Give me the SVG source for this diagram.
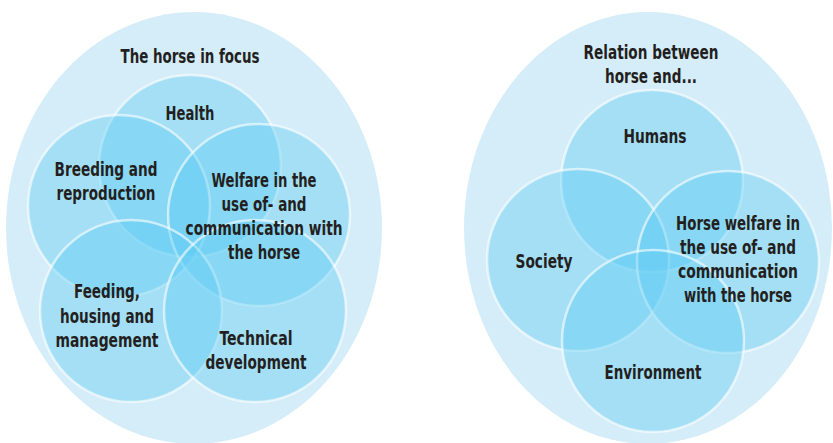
<svg xmlns="http://www.w3.org/2000/svg" width="833" height="443" viewBox="0 0 833 443">
<style>
.bg{fill:#d5edf9}
.c{fill:#5ecdf4;fill-opacity:0.41;stroke:#ffffff;stroke-opacity:0.6;stroke-width:2.5}
text{font-family:"DejaVu Sans Condensed","Liberation Sans",sans-serif;font-weight:bold;font-size:19px;fill:#231f20;text-anchor:middle}
</style>
<rect width="833" height="443" fill="#ffffff"/>
<g id="left-group">
<ellipse class="bg" cx="194" cy="228" rx="188" ry="216"/>
<text x="190" y="63" textLength="139" lengthAdjust="spacingAndGlyphs">The horse in focus</text>
</g>
<g id="health"><circle class="c" cx="190" cy="166" r="91"/></g>
<g id="breeding"><circle class="c" cx="119" cy="206" r="91"/></g>
<g id="welfare"><circle class="c" cx="259" cy="215" r="91"/></g>
<g id="feeding"><circle class="c" cx="131" cy="311" r="91"/></g>
<g id="technical"><circle class="c" cx="255" cy="311" r="91"/></g>
<g id="left-labels">
<text x="190" y="120" textLength="49" lengthAdjust="spacingAndGlyphs">Health</text>
<text x="106" y="176" textLength="103" lengthAdjust="spacingAndGlyphs">Breeding and</text>
<text x="106" y="200" textLength="99" lengthAdjust="spacingAndGlyphs">reproduction</text>
<text x="264" y="187" textLength="105" lengthAdjust="spacingAndGlyphs">Welfare in the</text>
<text x="264" y="211" textLength="85" lengthAdjust="spacingAndGlyphs">use of- and</text>
<text x="264" y="235" textLength="157" lengthAdjust="spacingAndGlyphs">communication with</text>
<text x="264" y="259" textLength="72" lengthAdjust="spacingAndGlyphs">the horse</text>
<text x="107" y="298" textLength="66" lengthAdjust="spacingAndGlyphs">Feeding,</text>
<text x="107" y="323" textLength="94" lengthAdjust="spacingAndGlyphs">housing and</text>
<text x="107" y="347" textLength="103" lengthAdjust="spacingAndGlyphs">management</text>
<text x="256" y="345" textLength="73" lengthAdjust="spacingAndGlyphs">Technical</text>
<text x="256" y="369" textLength="101" lengthAdjust="spacingAndGlyphs">development</text>
</g>
<g id="right-group">
<ellipse class="bg" cx="648" cy="228" rx="184" ry="216"/>
<text x="651" y="59" textLength="135" lengthAdjust="spacingAndGlyphs">Relation between</text>
<text x="651" y="83" textLength="92" lengthAdjust="spacingAndGlyphs">horse and...</text>
</g>
<g id="humans"><circle class="c" cx="652" cy="181" r="91"/></g>
<g id="society"><circle class="c" cx="578" cy="260" r="91"/></g>
<g id="horse-welfare"><circle class="c" cx="728" cy="262" r="91"/></g>
<g id="environment"><circle class="c" cx="653" cy="341" r="91"/></g>
<g id="right-labels">
<text x="655" y="143" textLength="63" lengthAdjust="spacingAndGlyphs">Humans</text>
<text x="544" y="268" textLength="57" lengthAdjust="spacingAndGlyphs">Society</text>
<text x="738" y="230" textLength="124" lengthAdjust="spacingAndGlyphs">Horse welfare in</text>
<text x="738" y="254" textLength="116" lengthAdjust="spacingAndGlyphs">the use of- and</text>
<text x="738" y="278" textLength="120" lengthAdjust="spacingAndGlyphs">communication</text>
<text x="738" y="302" textLength="108" lengthAdjust="spacingAndGlyphs">with the horse</text>
<text x="653" y="379" textLength="97" lengthAdjust="spacingAndGlyphs">Environment</text>
</g>
<g id="connectors"/>
</svg>
